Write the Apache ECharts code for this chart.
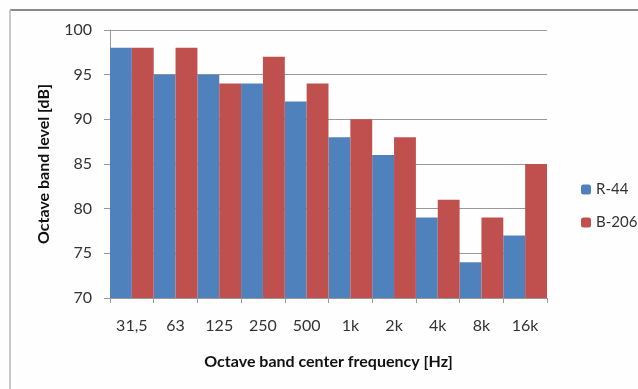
<!DOCTYPE html>
<html><head><meta charset="utf-8">
<script src="https://cdn.jsdelivr.net/npm/echarts@6/dist/echarts.min.js"></script>
<style>html,body{margin:0;padding:0;background:#fff}#c{width:638px;height:389px}</style>
</head><body><div id="c"></div>
<script>
const categories = ['31,5','63','125','250','500','1k','2k','4k','8k','16k'];
const r44 = [98,95,95,94,92,88,86,79,74,77];
const b206 = [98,98,94,97,94,90,88,81,79,85];
const yTicks = {min:70, max:100, interval:5};

const chart = echarts.init(document.getElementById('c'));
const font = 'Lato, "Open Sans", sans-serif';
chart.setOption({
  animation:false,
  backgroundColor:'#fefefe',
  textStyle:{fontFamily:font},
  graphic:[
    {type:'line', shape:{x1:10,y1:10,x2:638,y2:10}, style:{stroke:'#8a8a8a',lineWidth:2}},
    {type:'line', shape:{x1:10,y1:10,x2:10,y2:389}, style:{stroke:'#c8c8c8',lineWidth:2}}
  ],
  grid:{left:110,right:91,top:30,bottom:91},
  legend:{
    orient:'vertical', left:576, top:177, itemWidth:10, itemHeight:10, itemGap:18,
    textStyle:{fontSize:15,color:'#333',fontFamily:font},
    data:['R-44','B-206']
  },
  xAxis:{
    type:'category', data:categories,
    name:'Octave band center frequency [Hz]', nameLocation:'middle', nameGap:56,
    nameTextStyle:{fontSize:16,fontWeight:'bold',color:'#111',fontFamily:font},
    axisLine:{lineStyle:{color:'#999',width:1}},
    axisTick:{show:true,length:5,lineStyle:{color:'#999'}},
    axisLabel:{fontSize:16,color:'#333',margin:20,fontFamily:font},
    splitLine:{show:false}
  },
  yAxis:{
    type:'value', min:yTicks.min, max:yTicks.max, interval:yTicks.interval,
    name:'Octave band level [dB]', nameLocation:'middle', nameGap:58, nameRotate:90,
    nameTextStyle:{fontSize:16,fontWeight:'bold',color:'#111',fontFamily:font},
    axisLine:{show:true,lineStyle:{color:'#999',width:1}},
    axisTick:{show:true,length:6,lineStyle:{color:'#999'}},
    axisLabel:{fontSize:16,color:'#333',margin:18,fontFamily:font},
    splitLine:{lineStyle:{color:'#999',width:1}}
  },
  series:[
    {name:'R-44', type:'bar', data:r44, barGap:'0%', barCategoryGap:'0%', itemStyle:{color:'#4F81BD'}},
    {name:'B-206', type:'bar', data:b206, barGap:'0%', barCategoryGap:'0%', itemStyle:{color:'#C0504D'}}
  ]
});
</script></body></html>
